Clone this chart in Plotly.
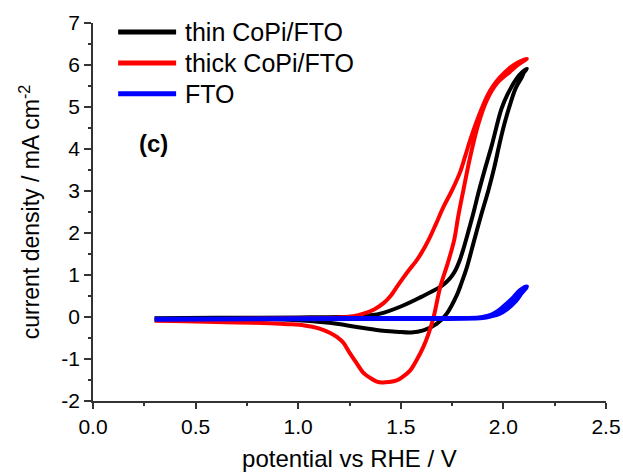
import plotly.graph_objects as go

# thin CoPi/FTO (black) - forward then reverse scan
thin_x = [0.30, 0.60, 1.00, 1.20, 1.30, 1.40, 1.50, 1.60, 1.69, 1.72, 1.745, 1.765, 1.785, 1.805, 1.83, 1.855, 1.878, 1.91, 1.943, 1.99, 2.02, 2.065, 2.09, 2.114,
          2.10, 2.09, 2.06, 2.035, 2.005, 1.98, 1.955, 1.927, 1.89, 1.858, 1.82, 1.795, 1.773, 1.724, 1.676, 1.61, 1.55, 1.48, 1.40, 1.286, 1.188, 1.00, 0.864, 0.60, 0.30]
thin_y = [-0.03, -0.02, -0.01, 0.00, 0.02, 0.08, 0.25, 0.48, 0.71, 0.82, 0.95, 1.10, 1.32, 1.62, 2.05, 2.50, 2.95, 3.52, 4.08, 4.95, 5.30, 5.68, 5.82, 5.91,
          5.82, 5.71, 5.45, 5.10, 4.60, 4.10, 3.55, 3.02, 2.40, 1.83, 1.15, 0.80, 0.52, 0.08, -0.16, -0.32, -0.37, -0.35, -0.32, -0.24, -0.16, -0.08, -0.05, -0.05, -0.05]

# thick CoPi/FTO (red)
thick_x = [0.30, 0.60, 1.00, 1.20, 1.27, 1.318, 1.37, 1.416, 1.45, 1.48, 1.51, 1.54, 1.57, 1.60, 1.635, 1.67, 1.708, 1.75, 1.789, 1.815, 1.838, 1.878, 1.919, 1.95, 1.984, 2.03, 2.07, 2.114,
           2.07, 2.03, 1.968, 1.919, 1.878, 1.838, 1.805, 1.78, 1.76, 1.73, 1.692, 1.66, 1.635, 1.61, 1.58, 1.546, 1.51, 1.48, 1.44, 1.41, 1.38, 1.351, 1.318, 1.286, 1.25, 1.221, 1.19, 1.156, 1.10, 1.03, 0.95, 0.864, 0.70, 0.60, 0.45, 0.30]
thick_y = [-0.07, -0.05, -0.03, -0.01, 0.02, 0.08, 0.18, 0.33, 0.50, 0.71, 0.92, 1.12, 1.30, 1.52, 1.83, 2.20, 2.62, 3.02, 3.45, 3.85, 4.21, 4.76, 5.24, 5.50, 5.71, 5.93, 6.06, 6.15,
           6.00, 5.83, 5.56, 5.16, 4.60, 3.81, 3.02, 2.40, 1.83, 1.30, 0.71, 0.00, -0.40, -0.71, -1.00, -1.27, -1.42, -1.51, -1.55, -1.56, -1.53, -1.45, -1.33, -1.11, -0.85, -0.62, -0.48, -0.38, -0.27, -0.20, -0.17, -0.15, -0.13, -0.12, -0.10, -0.09]

# FTO (blue)
fto_x = [0.30, 0.80, 1.30, 1.80, 1.88, 1.92, 1.95, 1.984, 2.017, 2.05, 2.08, 2.114,
         2.09, 2.06, 2.02, 1.98, 1.94, 1.90, 1.30, 0.80, 0.30]
fto_y = [-0.05, -0.04, -0.03, -0.03, -0.02, 0.02, 0.07, 0.18, 0.32, 0.47, 0.63, 0.72,
         0.58, 0.38, 0.20, 0.08, 0.02, -0.02, -0.04, -0.05, -0.06]

series_names = ["thin CoPi/FTO", "thick CoPi/FTO", "FTO"]
series_colors = ["black", "#ff0000", "#0000ff"]

x_ticks = [0.0, 0.5, 1.0, 1.5, 2.0, 2.5]
y_ticks = [-2, -1, 0, 1, 2, 3, 4, 5, 6, 7]
y_ticktext = [str(v) for v in y_ticks]

FONT = "Arial, Liberation Sans, sans-serif"

fig = go.Figure()
data = [(thin_x, thin_y, 4), (thick_x, thick_y, 4), (fto_x, fto_y, 4.5)]
for (xs, ys, w), name, col in zip(data, series_names, series_colors):
    fig.add_trace(go.Scatter(x=xs, y=ys, mode="lines", name=name, showlegend=False,
                             line=dict(color=col, width=w, shape="spline", smoothing=1.0)))

axis_common = dict(showline=True, linecolor="#333333", linewidth=1.5, mirror=False,
                   showgrid=False, zeroline=False, ticks="outside", tickcolor="#333333",
                   tickwidth=1.5, automargin=False,
                   tickfont=dict(family=FONT, size=21, color="black"))

fig.update_xaxes(range=[0, 2.5], tickvals=x_ticks, tickformat=".1f", ticklen=6,
                 minor=dict(ticks="outside", ticklen=3, dtick=0.25, tickcolor="#333333", tickwidth=1.5),
                 title=dict(text="potential vs RHE / V", font=dict(family=FONT, size=24, color="black")),
                 **axis_common)
fig.update_yaxes(range=[-2, 7], tickvals=y_ticks, ticktext=y_ticktext, ticklen=7,
                 minor=dict(ticks="outside", ticklen=3, dtick=0.5, tickcolor="#333333", tickwidth=1.5),
                 title=dict(text="current density / mA cm<sup>-2</sup>", font=dict(family=FONT, size=23, color="black")),
                 **axis_common)

fig.add_annotation(x=0.294, y=4.14, xref="x", yref="y", text="<b>(c)</b>", showarrow=False,
                   font=dict(family=FONT, size=24, color="black"))

# legend drawn as line samples + labels in the upper-left corner of the plot area
legend_rows_y = [0.976, 0.894, 0.813]
for name, col, ly in zip(series_names, series_colors, legend_rows_y):
    fig.add_shape(type="line", xref="paper", yref="paper", x0=0.049, x1=0.162, y0=ly, y1=ly,
                  line=dict(color=col, width=5))
    fig.add_annotation(x=0.175, y=ly, xref="paper", yref="paper", text=name, showarrow=False,
                       xanchor="left", yanchor="middle",
                       font=dict(family=FONT, size=25, color="black"))

fig.update_layout(
    width=623, height=472,
    margin=dict(l=93, r=17, t=23, b=71),
    paper_bgcolor="white", plot_bgcolor="white",
    showlegend=False,
)

fig.write_html("out.html")
